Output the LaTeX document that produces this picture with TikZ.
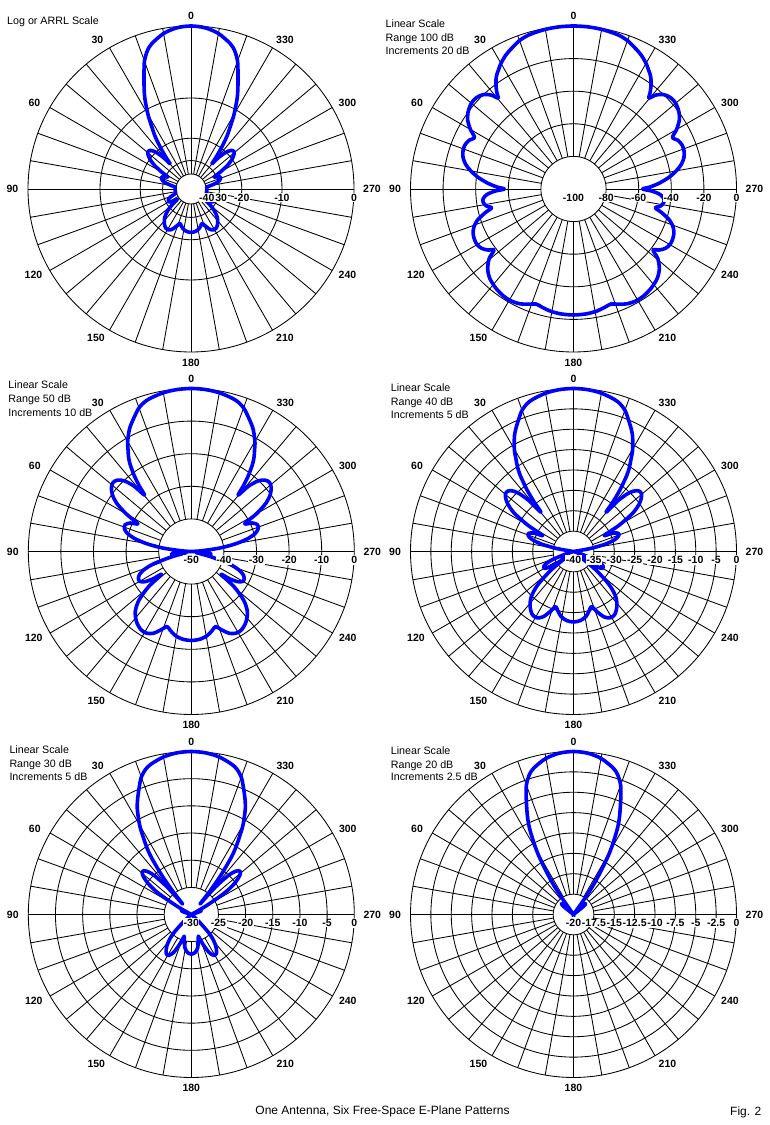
\documentclass[tikz,border=0pt]{standalone}
\usepackage{fontspec}
\setmainfont{Liberation Sans}
\tikzset{
  gridline/.style={black, line width=0.85pt},
  tracepath/.style={draw={rgb,255:red,0;green,0;blue,255}, line width=3.6pt, line join=round},
  alab/.style={font=\fontsize{10.5}{12}\selectfont\bfseries, inner sep=0pt},
  dblab/.style={font=\fontsize{10.5}{12}\selectfont\bfseries, fill=white, inner xsep=0.6pt, inner ysep=0.8pt},
  ttl/.style={font=\fontsize{10.7}{12}\selectfont, anchor=base west, inner sep=0pt},
  capt/.style={font=\fontsize{12}{14}\selectfont, inner sep=0pt},
}
% pattern: angle (deg, counter-clockwise from 0 at top) / relative field in dB
\newcommand\patternlist{0/0,5/-0.13,10/-0.55,15/-1.35,17.5/-2.0,20/-3.1,22/-4.5,25/-6.6,27/-8.1,29/-10.0,30.5/-11.5,32/-13.4,33.5/-15.1,35/-17.2,37/-21,38.5/-24.5,39.7/-27.5,41.2/-23.4,43.5/-20.1,46/-18.5,48.5/-18.0,51/-18.5,54/-20.0,57/-22.6,60/-27,62.5/-31.5,65/-29.3,68/-28.1,71/-28.3,74/-29.5,77/-32,80/-36,83/-41,86/-47,88.5/-53,90/-57.6,91.5/-52,93.5/-47,96/-44.3,98.5/-44,101/-45.5,103/-48.5,105/-44,108/-38,111/-34.5,114/-32.6,117/-31.8,120/-31.7,123/-33,125.5/-35.5,127.5/-38.5,129.5/-33,133/-28,137/-24.8,142/-22.7,147/-21.5,151/-21.4,155/-22.3,159/-24.3,162/-25.8,165/-25,169/-23.8,174/-23,180/-22.7}
% #1 cx, #2 cy, #3 range in dB (0 = ARRL log scale)
\newcommand\drawtrace[3]{%
  \gdef\ptsL{}\gdef\ptsR{}%
  \foreach \a/\d in \patternlist {%
    \ifnum#3=0
      \pgfmathsetmacro\rr{163*0.89^(-max(\d,-40)/2)}%
    \else
      \pgfmathsetmacro\rr{163*max(0,(\d+#3)/#3)}%
    \fi
    \pgfmathsetmacro\xl{#1-\rr*sin(\a)}%
    \pgfmathsetmacro\xr{#1+\rr*sin(\a)}%
    \pgfmathsetmacro\yy{#2+\rr*cos(\a)}%
    \xdef\ptsL{\ptsL (\xl,\yy)}%
    \ifdim\a pt>0pt \ifdim\a pt<180pt \xdef\ptsR{(\xr,\yy) \ptsR}\fi\fi
  }%
  \edef\mytracecmd{\noexpand\draw[tracepath] plot[smooth cycle, tension=0.5] coordinates {\ptsL\ptsR};}%
  \mytracecmd
}
% #1 cx, #2 cy, #3 hole radius, #4 ring radii
\newcommand\polargrid[4]{%
  \foreach \r in {#4} {\draw[gridline] (#1,#2) circle[radius=\r];}
  \foreach \t in {0,10,...,350} {\draw[gridline,shift={(#1,#2)}] (\t:#3) -- (\t:163);}
}
% #1 cx, #2 cy, #3 list radius/text, #4 name prefix
\newcommand\dblabels[4]{%
  \foreach \r/\txt [count=\i] in {#3} {\node[dblab] (#4db\i) at (#1+\r,#2-8.5) {\txt};}
}
% #1 cx, #2 cy, #3 name prefix
\newcommand\anglabels[3]{%
  \node[alab] (#3a0)   at (#1,#2+173) {0};
  \node[alab] (#3a30)  at (#1-93.5,#2+149) {30};
  \node[alab] (#3a60)  at (#1-156.5,#2+86) {60};
  \node[alab] (#3a90)  at (#1-178.5,#2) {90};
  \node[alab] (#3a120) at (#1-157.5,#2-86) {120};
  \node[alab] (#3a150) at (#1-95,#2-149.3) {150};
  \node[alab] (#3a180) at (#1,#2-173.7) {180};
  \node[alab] (#3a210) at (#1+94,#2-149.3) {210};
  \node[alab] (#3a240) at (#1+156.5,#2-86) {240};
  \node[alab] (#3a270) at (#1+181,#2) {270};
  \node[alab] (#3a300) at (#1+156.5,#2+86) {300};
  \node[alab] (#3a330) at (#1+94,#2+149) {330};
}
\begin{document}
\begin{tikzpicture}[x=1pt,y=1pt]
\useasboundingbox (0,0) rectangle (770,1125);
\fill[white] (0,0) rectangle (770,1125);

% ---------- Plot 1: ARRL log scale ----------
\polargrid{191}{936}{15}{15,28.4,50.8,91.0,163}
\drawtrace{191}{936}{0}
\dblabels{191}{936}{163/0,91.0/-10,50.8/-20,28.4/-30,15.8/-40}{p1}
\anglabels{191}{936}{p1}
\node[ttl] (t1a) at (7,1100) {Log or ARRL Scale};

% ---------- Plot 2: linear 100 dB ----------
\polargrid{573.5}{936}{32.6}{32.6,65.2,97.8,130.4,163}
\drawtrace{573.5}{936}{100}
\dblabels{573.5}{936}{163/0,130.4/-20,97.8/-40,65.2/-60,32.6/-80,0/-100}{p2}
\anglabels{573.5}{936}{p2}
\node[ttl] (t2a) at (385.5,1097.7) {Linear Scale};
\node[ttl] (t2b) at (385.5,1083.7) {Range 100 dB};
\node[ttl] (t2c) at (385.5,1070) {Increments 20 dB};

% ---------- Plot 3: linear 50 dB ----------
\polargrid{191.3}{573.5}{32.6}{32.6,65.2,97.8,130.4,163}
\drawtrace{191.3}{573.5}{50}
\dblabels{191.3}{573.5}{163/0,130.4/-10,97.8/-20,65.2/-30,32.6/-40,0/-50}{p3}
\anglabels{191.3}{573.5}{p3}
\node[ttl] (t3a) at (8.3,736) {Linear Scale};
\node[ttl] (t3b) at (8.3,722) {Range 50 dB};
\node[ttl] (t3c) at (8.3,708.7) {Increments 10 dB};

% ---------- Plot 4: linear 40 dB ----------
\polargrid{573.5}{573.5}{20.375}{20.375,40.75,61.125,81.5,101.875,122.25,142.625,163}
\drawtrace{573.5}{573.5}{40}
\dblabels{573.5}{573.5}{163/0,142.625/-5,122.25/-10,101.875/-15,81.5/-20,61.125/-25,40.75/-30,20.375/-35,0/-40}{p4}
\anglabels{573.5}{573.5}{p4}
\node[ttl] (t4a) at (390.7,733.7) {Linear Scale};
\node[ttl] (t4b) at (390.7,719.3) {Range 40 dB};
\node[ttl] (t4c) at (390.7,706) {Increments 5 dB};

% ---------- Plot 5: linear 30 dB ----------
\polargrid{191.3}{210.5}{27.17}{27.17,54.33,81.5,108.67,135.83,163}
\drawtrace{191.3}{210.5}{30}
\dblabels{191.3}{210.5}{163/0,135.83/-5,108.67/-10,81.5/-15,54.33/-20,27.17/-25,0/-30}{p5}
\anglabels{191.3}{210.5}{p5}
\node[ttl] (t5a) at (9.3,371.7) {Linear Scale};
\node[ttl] (t5b) at (9.3,357.7) {Range 30 dB};
\node[ttl] (t5c) at (9.3,344.7) {Increments 5 dB};

% ---------- Plot 6: linear 20 dB ----------
\polargrid{573.5}{210.5}{20.375}{20.375,40.75,61.125,81.5,101.875,122.25,142.625,163}
\drawtrace{573.5}{210.5}{20}
\dblabels{573.5}{210.5}{163/0,142.625/-2.5,122.25/-5,101.875/-7.5,81.5/-10,61.125/-12.5,40.75/-15,20.375/-17.5,0/-20}{p6}
\anglabels{573.5}{210.5}{p6}
\node[ttl] (t6a) at (390.7,370.7) {Linear Scale};
\node[ttl] (t6b) at (390.7,356.7) {Range 20 dB};
\node[ttl] (t6c) at (390.7,344) {Increments 2.5 dB};

% ---------- caption ----------
\node[capt, anchor=base] (cap) at (382.5,10.5) {One Antenna, Six Free-Space E-Plane Patterns};
\node[capt, anchor=base west] (fig) at (730,9.3) {Fig. 2};
\end{tikzpicture}
\end{document}
